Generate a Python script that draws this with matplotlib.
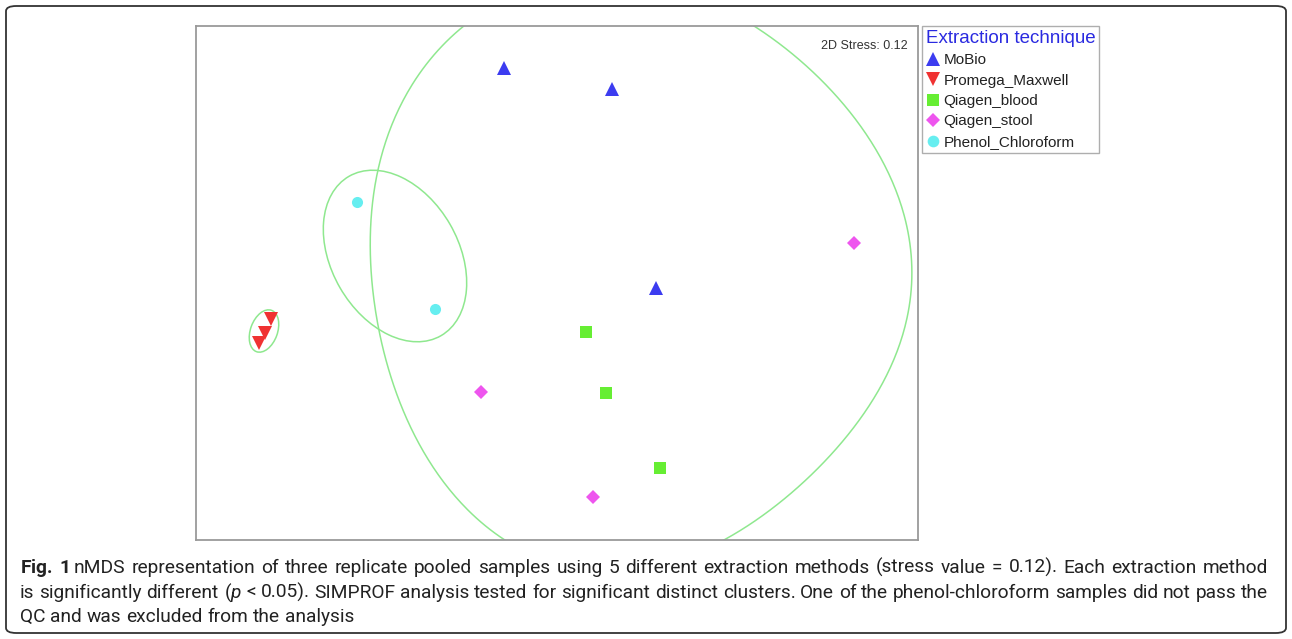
import numpy as np
import matplotlib
matplotlib.use("Agg")
import matplotlib.pyplot as plt
from matplotlib.patches import Ellipse, FancyBboxPatch
from matplotlib.lines import Line2D

plt.rcParams['font.family'] = ['Liberation Sans', 'DejaVu Sans']
plt.rcParams['mathtext.fontset'] = 'custom'
plt.rcParams['mathtext.rm'] = 'Roboto'
plt.rcParams['mathtext.bf'] = 'Roboto:bold'
plt.rcParams['mathtext.it'] = 'Roboto:italic'

# ---- data (nMDS coordinates) ----
groups = ["MoBio", "Promega_Maxwell", "Qiagen_blood", "Qiagen_stool", "Phenol_Chloroform"]
mobio_x = [-0.53, 0.55, 0.99]
mobio_y = [2.15, 1.94, -0.05]
promega_x = [-2.86, -2.92, -2.98]
promega_y = [-0.36, -0.50, -0.60]
qblood_x = [0.29, 0.49, 1.03]
qblood_y = [-0.49, -1.10, -1.85]
qstool_x = [2.97, -0.76, 0.36]
qstool_y = [0.40, -1.09, -2.14]
phenol_x = [-2.00, -1.22]
phenol_y = [0.81, -0.26]
stress = 0.12

colors = ["#3c3cf0", "#f03232", "#66ee33", "#ee55ee", "#66eef0"]
markers = ["^", "v", "s", "D", "o"]
msizes = [9.5, 9.5, 8.5, 7.0, 8.0]

# SIMPROF cluster overlays
small_ell = dict(xy=(-1.62, 0.27), width=1.84, height=1.27, angle=-60)
tiny_ell = dict(xy=(-2.93, -0.48), width=0.44, height=0.27, angle=70)
big_contour_x = [0.53, 1.33, 1.96, 2.56, 2.96, 3.23, 3.41, 3.52, 3.54, 3.51, 3.43, 3.13,
                 2.83, 2.41, 2.11, 1.72, 1.18, 0.60, 0.03, -0.52, -0.77, -1.03, -1.43,
                 -1.57, -1.67, -1.80, -1.86, -1.88, -1.86, -1.80, -1.74, -1.48, -1.17,
                 -0.91, -0.27]
big_contour_y = [3.08, 2.93, 2.56, 2.03, 1.70, 1.33, 0.83, 0.33, -0.02, -0.37, -0.67, -1.27,
                 -1.62, -1.97, -2.24, -2.55, -2.82, -2.92, -2.82, -2.55, -2.37, -2.14, -1.47,
                 -1.17, -0.87, -0.40, -0.07, 0.33, 0.73, 1.11, 1.33, 1.88, 2.35,
                 2.56, 2.93]

caption_lines = [
    r"$\mathbf{Fig.}$ $\mathbf{1}$ nMDS representation of three replicate pooled samples using 5 "
    r"different extraction methods (stress value = 0.12). Each extraction method",
    r"is significantly different ($p$ < 0.05). SIMPROF analysis tested for significant "
    r"distinct clusters. One of the phenol-chloroform samples did not pass the",
    "QC and was excluded from the analysis",
]


def smooth_closed_curve(xs, ys, harmonics=4, n=600):
    """Least-squares Fourier smoothing of a closed outline."""
    P = np.column_stack([xs, ys]).astype(float)
    seg = np.linalg.norm(np.diff(np.vstack([P, P[:1]]), axis=0), axis=1)
    s = np.concatenate([[0], np.cumsum(seg)[:-1]])
    t = 2 * np.pi * s / seg.sum()

    def basis(tt):
        cols = [np.ones_like(tt)]
        for k in range(1, harmonics + 1):
            cols += [np.cos(k * tt), np.sin(k * tt)]
        return np.column_stack(cols)

    B = basis(t)
    cxk, *_ = np.linalg.lstsq(B, P[:, 0], rcond=None)
    cyk, *_ = np.linalg.lstsq(B, P[:, 1], rcond=None)
    tt = np.linspace(0, 2 * np.pi, n)
    Bt = basis(tt)
    return Bt @ cxk, Bt @ cyk


W, H = 1292, 639
fig = plt.figure(figsize=(W / 100, H / 100), dpi=100)

# outer rounded frame
frame = FancyBboxPatch((6 / W, 6 / H), 1 - 12 / W, 1 - 12 / H,
                       boxstyle="round,pad=0,rounding_size=0.008",
                       transform=fig.transFigure, fill=False,
                       edgecolor="#333333", linewidth=1.3, zorder=0)
fig.patches.append(frame)

ax = fig.add_axes([196 / W, 1 - 540 / H, 722 / W, 514 / H])
ax.set_xlim(-3.61, 3.61)
ax.set_ylim(-2.57, 2.57)
ax.set_xticks([])
ax.set_yticks([])
for s in ax.spines.values():
    s.set_edgecolor("#9a9a9a")
    s.set_linewidth(1.3)

ell_color = "#8fe88f"
cx, cy = smooth_closed_curve(big_contour_x, big_contour_y)
ax.plot(cx, cy, color=ell_color, lw=1.1, zorder=1)
ax.add_patch(Ellipse(**small_ell, fill=False, edgecolor=ell_color, lw=1.1, zorder=1))
ax.add_patch(Ellipse(**tiny_ell, fill=False, edgecolor=ell_color, lw=1.1, zorder=1))

xs = [mobio_x, promega_x, qblood_x, qstool_x, phenol_x]
ys = [mobio_y, promega_y, qblood_y, qstool_y, phenol_y]
handles = []
for g, x, y, c, mk, ms in zip(groups, xs, ys, colors, markers, msizes):
    ax.plot(x, y, linestyle="none", marker=mk, color=c, markersize=ms,
            markeredgewidth=0, zorder=3)
    handles.append(Line2D([], [], linestyle="none", marker=mk, color=c,
                          markersize=ms * 1.05, markeredgewidth=0, label=g))

ax.text(0.985, 0.972, f"2D Stress: {stress}", transform=ax.transAxes,
        ha="right", va="top", fontsize=9, color="#333333")

leg = fig.legend(handles=handles, loc="upper left",
                 bbox_to_anchor=(922 / W, 1 - 26 / H),
                 title="Extraction technique", title_fontsize=13.5,
                 fontsize=11, frameon=True, fancybox=False,
                 borderpad=0.25, labelspacing=0.42, handletextpad=0.15,
                 handlelength=1.0, borderaxespad=0)
leg.get_title().set_color("#2a2ae0")
leg._legend_box.align = "left"
leg.get_frame().set_edgecolor("#9a9a9a")
leg.get_frame().set_linewidth(1.0)
for t in leg.get_texts():
    t.set_color("#222222")

# justified caption
cap_kw = dict(fontsize=13.8, family=["Roboto", "DejaVu Sans"], color="#222222",
              ha="left", va="baseline")
renderer = fig.canvas.get_renderer()
x_left, x_right = 20.0, 1268.0
baselines = [573, 598, 622]


def split_words(line):
    # keep $...$ segments intact (they contain no spaces except the bold parts handled)
    return line.split(" ")


for i, (line, yb) in enumerate(zip(caption_lines, baselines)):
    words = split_words(line)
    objs = [fig.text(0, 1 - yb / H, w, **cap_kw) for w in words]
    widths = [o.get_window_extent(renderer).width for o in objs]
    if i < len(caption_lines) - 1:
        gap = (x_right - x_left - sum(widths)) / (len(words) - 1)
    else:
        sp = fig.text(0, 0, "a a", **cap_kw).get_window_extent(renderer).width
        aa = fig.text(0, 0, "aa", **cap_kw).get_window_extent(renderer).width
        gap = sp - aa
    xpos = x_left
    for o, w in zip(objs, widths):
        o.set_x(xpos / W)
        xpos += w + gap
for t in list(fig.texts):
    if t.get_text() in ("a a", "aa"):
        t.remove()

fig.savefig("out.png", dpi=100)
